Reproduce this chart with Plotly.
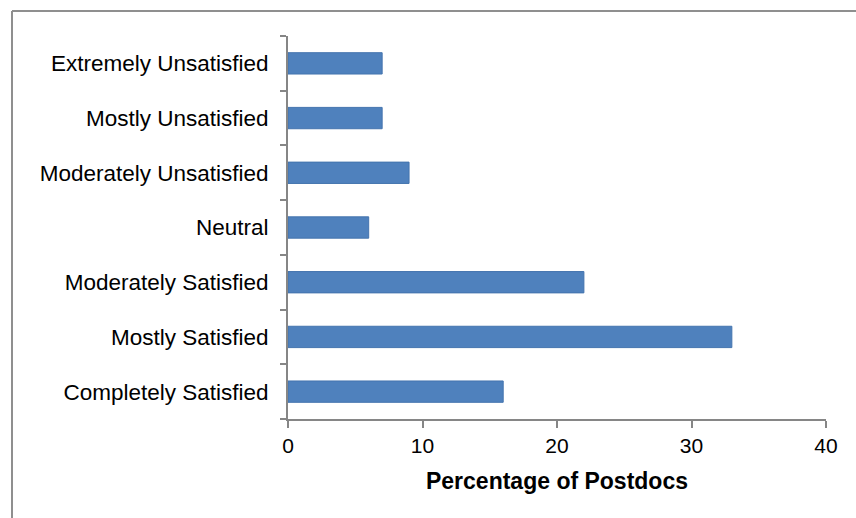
import plotly.graph_objects as go

# Satisfaction categories, bottom to top
categories = [
    "Completely Satisfied",
    "Mostly Satisfied",
    "Moderately Satisfied",
    "Neutral",
    "Moderately Unsatisfied",
    "Mostly Unsatisfied",
    "Extremely Unsatisfied",
]
percentages = [16, 33, 22, 6, 9, 7, 7]
x_ticks = [0, 10, 20, 30, 40]

axis_gray = "#868686"
font_family = "Liberation Sans, Arial, sans-serif"

fig = go.Figure(
    go.Bar(
        x=percentages,
        y=categories,
        orientation="h",
        marker=dict(color="#4F81BD", line=dict(color="#4474AE", width=1)),
        width=0.39,
    )
)

# Plot area geometry in pixels (page is 856 x 518)
W, H = 856, 518
L, R, T, B = 288, 30, 36, 99
pw, ph = W - L - R, H - T - B


def px_x(px):
    return (px - L) / pw


def px_y(py):
    return (H - B - py) / ph


shapes = [
    # outer frame (top and left edges)
    dict(type="line", xref="paper", yref="paper",
         x0=px_x(12), x1=px_x(W + 5), y0=px_y(11), y1=px_y(11),
         line=dict(color="#8f8f8f", width=2)),
    dict(type="line", xref="paper", yref="paper",
         x0=px_x(12), x1=px_x(12), y0=px_y(11), y1=px_y(H + 5),
         line=dict(color="#8f8f8f", width=2)),
]

fig.update_layout(
    width=W,
    height=H,
    margin=dict(l=L, r=R, t=T, b=B, autoexpand=False),
    paper_bgcolor="white",
    plot_bgcolor="white",
    showlegend=False,
    font=dict(family=font_family, size=22, color="#000000"),
    shapes=shapes,
    xaxis=dict(
        range=[0, 40],
        tickvals=x_ticks,
        showgrid=False,
        zeroline=False,
        showline=True,
        linecolor=axis_gray,
        linewidth=2,
        ticks="outside",
        ticklen=7,
        tickwidth=2,
        tickcolor=axis_gray,
        tickfont=dict(size=21),
        title=dict(
            text="<b>Percentage of Postdocs</b>",
            font=dict(size=23),
            standoff=17,
        ),
        fixedrange=True,
    ),
    yaxis=dict(
        type="category",
        categoryorder="array",
        categoryarray=categories,
        range=[-0.5, 6.5],
        showgrid=False,
        zeroline=False,
        showline=True,
        linecolor=axis_gray,
        linewidth=2,
        ticks="outside",
        tickson="boundaries",
        ticklen=6,
        tickwidth=2,
        tickcolor=axis_gray,
        tickfont=dict(size=22.5),
        ticklabelstandoff=13,
        fixedrange=True,
    ),
)

fig.write_html("out.html")
